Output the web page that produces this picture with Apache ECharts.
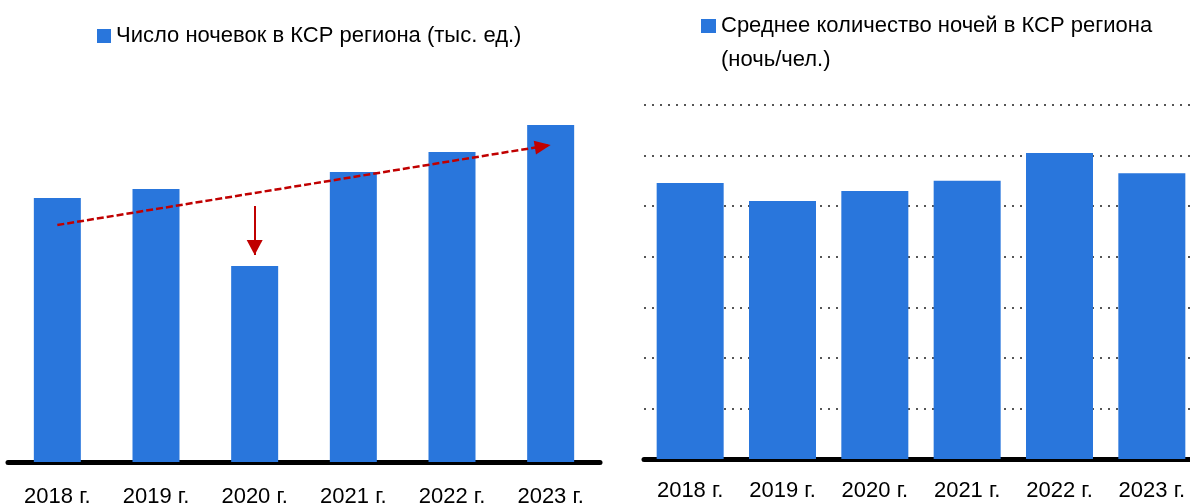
<!DOCTYPE html>
<html>
<head>
<meta charset="utf-8">
<script src="https://cdn.jsdelivr.net/npm/echarts@6/dist/echarts.min.js"></script>
<style>
  html, body { margin: 0; padding: 0; background: #fff; }
  #chart { width: 1190px; height: 504px; }
</style>
</head>
<body>
<div id="chart"></div>
<script>
const years = ['2018 г.', '2019 г.', '2020 г.', '2021 г.', '2022 г.', '2023 г.']
const staysName = 'Число ночевок в КСР региона (тыс. ед.)'
const stays = [264, 273, 196, 290, 310, 337]
const nightsName = 'Среднее количество ночей в КСР региона (ночь/чел.)'
const nights = [5.46, 5.10, 5.30, 5.50, 6.05, 5.65]
// annotations on the left chart: [category index, value]
const trendLine = [[0, 237], [5, 317]]
const dropArrow = [[2, 256], [2, 207]]

const font = "'Liberation Sans', Arial, sans-serif"
const blue = '#2976dc'
const red = '#c00000'

// arrowheads whose tip sits at the symbol centre (the leading moveTo pads the box)
const trendHead = 'path://M0,-16M0,0L7,16L-7,16Z'
const dropHead = 'path://M0,-15M0,0L8,15L-8,15Z'

const chart = echarts.init(document.getElementById('chart'))

const xAxisBase = {
  type: 'category',
  data: years,
  axisTick: { show: false },
  axisLine: { lineStyle: { color: '#000', width: 5 } },
  axisLabel: { color: '#000', fontFamily: font, fontSize: 22, interval: 0 }
}

chart.setOption({
  animation: false,
  textStyle: { fontFamily: font },
  legend: [{
    data: [staysName],
    left: 97,
    top: 25,
    padding: 0,
    itemWidth: 14,
    itemHeight: 14,
    icon: 'rect',
    textStyle: { color: '#000', fontFamily: font, fontSize: 22 }
  }, {
    data: [nightsName],
    left: 701,
    top: -25,
    padding: 0,
    itemWidth: 15,
    itemHeight: 14,
    icon: 'rect',
    // empty first line keeps the icon level with the first text line
    formatter: name => '\n' + name.replace(' (ночь', '\n(ночь'),
    textStyle: { color: '#000', fontFamily: font, fontSize: 22, lineHeight: 34 }
  }],
  grid: [
    { left: 8, width: 592, top: 62, height: 400, outerBoundsMode: 'none' },
    { left: 644, width: 554, top: 105, height: 354, outerBoundsMode: 'none' }
  ],
  xAxis: [
    Object.assign({}, xAxisBase, { gridIndex: 0, axisLabel: Object.assign({}, xAxisBase.axisLabel, { margin: 24 }) }),
    Object.assign({}, xAxisBase, { gridIndex: 1, axisLabel: Object.assign({}, xAxisBase.axisLabel, { margin: 21 }) })
  ],
  yAxis: [{
    type: 'value',
    gridIndex: 0,
    min: 0,
    max: 400,
    show: false,
    splitLine: { show: false }
  }, {
    type: 'value',
    gridIndex: 1,
    min: 0,
    max: 7,
    interval: 1,
    axisLabel: { show: false },
    axisLine: { show: false },
    axisTick: { show: false },
    splitLine: { lineStyle: { color: '#555', width: 2, type: [2, 6] } }
  }],
  series: [{
    name: staysName,
    type: 'bar',
    xAxisIndex: 0,
    yAxisIndex: 0,
    data: stays,
    barWidth: 47,
    itemStyle: { color: blue },
    markLine: {
      silent: true,
      symbol: 'none',
      label: { show: false },
      data: [
        [
          { coord: trendLine[0], lineStyle: { color: red, width: 2.5, type: [7, 3] } },
          { coord: trendLine[1], symbol: trendHead, symbolSize: [14, 32] }
        ],
        [
          { coord: dropArrow[0], lineStyle: { color: red, width: 2, type: 'solid' } },
          { coord: dropArrow[1], symbol: dropHead, symbolSize: [16, 30] }
        ]
      ],
      itemStyle: { color: red }
    }
  }, {
    name: nightsName,
    type: 'bar',
    xAxisIndex: 1,
    yAxisIndex: 1,
    data: nights,
    barWidth: 67,
    itemStyle: { color: blue }
  }]
})
</script>
</body>
</html>
